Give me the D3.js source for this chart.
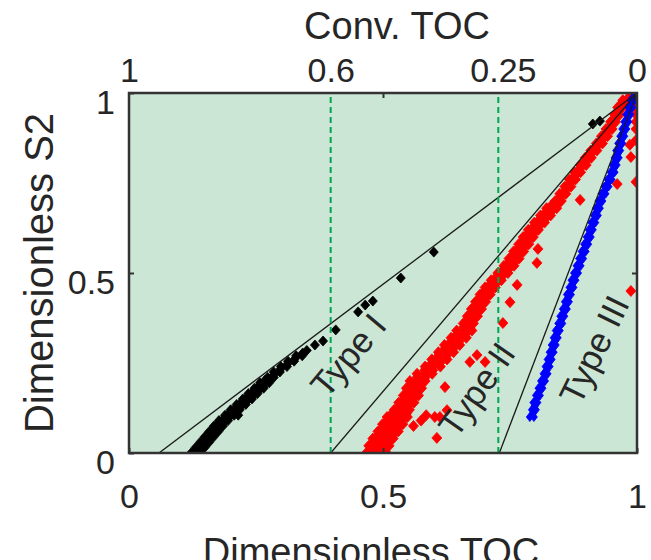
<!DOCTYPE html>
<html><head><meta charset="utf-8">
<script src="https://cdn.jsdelivr.net/npm/d3@7"></script>
<style>
body{margin:0;background:#fff}
text{font-family:"Liberation Sans",Arial,Helvetica,sans-serif;fill:#262626}
</style>
</head><body>
<svg id="chart" width="651" height="560"></svg>
<script>
// ---------- data ----------
const bottomTicks = [0, 0.5, 1];
const bottomTickLabels = ["0", "0.5", "1"];
const leftTicks = [0, 0.5, 1];
const leftTickLabels = ["0", "0.5", "1"];
const topTickPos = [0, 0.397, 0.736, 1];
const topTickLabels = ["1", "0.6", "0.25", "0"];
const dashedX = [0.397, 0.727];
const boundaryStarts = [0.059, 0.397, 0.729];   // lines from (x,0) to apex
const apex = [1, 1];
const typeNames = ["Type I", "Type II", "Type III"];
const typeAnchors = [[0.431, 0.272], [0.684, 0.177], [0.915, 0.287]];
const typeAngles = [-50, -55, -64];

// Type I rows: [S2, TOC values...]
const typeIRows = [
[0, 0.122,0.131,0.140],
[0.0075, 0.131,0.140],
[0.015, 0.131,0.140,0.149],
[0.0225, 0.140,0.149],
[0.03, 0.140,0.149,0.158],
[0.0375, 0.149,0.158],
[0.045, 0.149,0.158,0.167],
[0.0525, 0.158,0.167],
[0.06, 0.158,0.167,0.176],
[0.0675, 0.167,0.176],
[0.075, 0.167,0.176,0.185],
[0.0825, 0.1765,0.1855],
[0.09, 0.177,0.186,0.195],
[0.0975, 0.1875,0.1965],
[0.105, 0.189,0.198,0.207,0.215],
[0.1125, 0.199,0.208],
[0.12, 0.200,0.209,0.218],
[0.1275, 0.2105,0.2195],
[0.135, 0.212,0.221,0.230],
[0.1425, 0.2225,0.2315],
[0.15, 0.224,0.233,0.242],
[0.1575, 0.234,0.243],
[0.165, 0.235,0.244,0.253],
[0.1725, 0.2455,0.2545],
[0.18, 0.247,0.256,0.265],
[0.1875, 0.257,0.266],
[0.195, 0.258,0.267,0.276],
[0.2025, 0.268,0.277],
[0.21, 0.273,0.285],
[0.2175, 0.285],
[0.225, 0.285,0.297],
[0.2325, 0.298],
[0.24, 0.299,0.311],
[0.2475, 0.312],
[0.255, 0.313,0.325],
[0.2625, 0.327],
[0.27, 0.329,0.341],
[0.2775, 0.342],
[0.285, 0.350]
];
const typeIScatter = [
[0.366,0.3],[0.382,0.311],[0.407,0.342],[0.451,0.392],[0.465,0.411],[0.480,0.422],
[0.535,0.486],[0.600,0.558],[0.913,0.914],[0.927,0.922]
];

const typeIIRows = [
[0.00, 0.467,0.480,0.494,0.507],
[0.01, 0.475,0.489,0.503],
[0.02, 0.472,0.485,0.499,0.512],
[0.03, 0.482,0.496,0.510],
[0.04, 0.480,0.493,0.507,0.520],
[0.05, 0.491,0.505,0.519],
[0.06, 0.490,0.503,0.517,0.530],
[0.07, 0.500,0.514,0.528],
[0.08, 0.499,0.512,0.526,0.539],
[0.09, 0.509,0.523,0.537],
[0.10, 0.508,0.521,0.535,0.548],
[0.11, 0.518,0.532,0.546],
[0.12, 0.522,0.537,0.552],
[0.13, 0.533,0.549],
[0.14, 0.531,0.546,0.561],
[0.15, 0.542,0.558],
[0.16, 0.540,0.555,0.570],
[0.17, 0.550,0.566],
[0.18, 0.546,0.561,0.576],
[0.19, 0.556,0.572],
[0.20, 0.553,0.568,0.583],
[0.21, 0.567,0.583],
[0.22, 0.567,0.582,0.597],
[0.23, 0.582,0.598],
[0.24, 0.583,0.598,0.613],
[0.25, 0.596,0.612],
[0.26, 0.596,0.611,0.626],
[0.27, 0.609,0.625],
[0.28, 0.609,0.624,0.639],
[0.29, 0.622,0.638],
[0.30, 0.621,0.636,0.651],
[0.31, 0.634,0.650],
[0.32, 0.634,0.649,0.664],
[0.33, 0.646,0.662],
[0.34, 0.645,0.660,0.675],
[0.35, 0.659,0.669],
[0.36, 0.658,0.668,0.678],
[0.37, 0.667,0.677],
[0.38, 0.666,0.676,0.686],
[0.39, 0.675,0.685],
[0.40, 0.674,0.684,0.694],
[0.41, 0.683,0.693],
[0.42, 0.682,0.692,0.702],
[0.43, 0.691,0.701],
[0.44, 0.691,0.701,0.711],
[0.45, 0.701,0.711],
[0.46, 0.701,0.711,0.721],
[0.47, 0.712,0.722],
[0.48, 0.713,0.723,0.733],
[0.49, 0.724,0.734],
[0.50, 0.726,0.736,0.746],
[0.51, 0.737,0.747],
[0.52, 0.738,0.748,0.758],
[0.53, 0.748,0.758],
[0.54, 0.748,0.758,0.768],
[0.55, 0.757,0.767],
[0.56, 0.757,0.767,0.777],
[0.57, 0.767,0.777],
[0.58, 0.767,0.777,0.787],
[0.59, 0.776,0.786],
[0.60, 0.776,0.786,0.796],
[0.61, 0.786,0.796],
[0.62, 0.786,0.796,0.806],
[0.63, 0.797,0.807],
[0.64, 0.798,0.808,0.818],
[0.65, 0.809,0.819],
[0.66, 0.810,0.820,0.830],
[0.67, 0.821,0.831],
[0.68, 0.822,0.832,0.842],
[0.69, 0.833,0.843],
[0.70, 0.839,0.851],
[0.71, 0.849],
[0.72, 0.848,0.860],
[0.73, 0.859],
[0.74, 0.858,0.870],
[0.75, 0.868],
[0.76, 0.867,0.879],
[0.77, 0.878],
[0.78, 0.877,0.889],
[0.79, 0.888],
[0.80, 0.888,0.900],
[0.81, 0.899],
[0.82, 0.898,0.910],
[0.83, 0.909],
[0.84, 0.909,0.921],
[0.85, 0.920],
[0.86, 0.920,0.932],
[0.87, 0.931],
[0.88, 0.930,0.942],
[0.89, 0.940],
[0.90, 0.939,0.951],
[0.91, 0.949],
[0.92, 0.948,0.958],
[0.93, 0.957],
[0.94, 0.956,0.966],
[0.95, 0.963],
[0.96, 0.962,0.972],
[0.97, 0.970],
[0.98, 0.972,0.980],
[0.99, 0.985]
];
const typeIIScatter = [
[0.602,0.10],[0.612,0.10],[0.626,0.119],[0.606,0.042],[0.622,0.183],
[0.560,0.075],[0.575,0.09],[0.585,0.105],
[0.671,0.253],[0.701,0.253],[0.685,0.272],
[0.736,0.361],[0.750,0.419],[0.764,0.467],
[0.803,0.528],[0.805,0.567],[0.888,0.703],[0.961,0.747],
[0.967,0.861],[0.988,0.822],[0.986,0.856],[0.988,0.45],[0.967,0.967],
[0.998,0.98],[0.998,0.96],[0.998,0.94],[0.998,0.92],[0.998,0.90],
[0.998,0.869],[0.998,0.753]
];

const typeIIIRows = [
[0.10, 0.789,0.797],[0.11, 0.795],
[0.12, 0.793,0.801],[0.13, 0.7985],
[0.14, 0.796,0.804],[0.15, 0.8025],
[0.16, 0.801,0.809],[0.17, 0.8075],
[0.18, 0.806,0.814],[0.19, 0.8125],
[0.20, 0.811,0.819],[0.21, 0.8175],
[0.22, 0.816,0.824],[0.23, 0.822],
[0.24, 0.820,0.828],[0.25, 0.826],
[0.26, 0.824,0.832],[0.27, 0.830],
[0.28, 0.828,0.836],[0.29, 0.834],
[0.30, 0.832,0.840],[0.31, 0.838],
[0.32, 0.836,0.844],[0.33, 0.842],
[0.34, 0.840,0.848],[0.35, 0.8465],
[0.36, 0.845,0.853],[0.37, 0.851],
[0.38, 0.849,0.857],[0.39, 0.8555],
[0.40, 0.854,0.862],[0.41, 0.860],
[0.42, 0.858,0.866],[0.43, 0.864],
[0.44, 0.862,0.870],[0.45, 0.8685],
[0.46, 0.867,0.875],[0.47, 0.873],
[0.48, 0.871,0.879],[0.49, 0.8775],
[0.50, 0.876,0.884],[0.51, 0.8825],
[0.52, 0.881,0.889],[0.53, 0.8875],
[0.54, 0.886,0.894],[0.55, 0.8925],
[0.56, 0.891,0.899],[0.57, 0.8975],
[0.58, 0.896,0.904],[0.59, 0.9025],
[0.60, 0.901,0.909],[0.61, 0.907],
[0.62, 0.905,0.913],[0.63, 0.9115],
[0.64, 0.910,0.918],[0.65, 0.9165],
[0.66, 0.915,0.923],[0.67, 0.921],
[0.68, 0.919,0.927],[0.69, 0.9255],
[0.70, 0.924,0.932],[0.71, 0.931],
[0.72, 0.930,0.938],[0.73, 0.937],
[0.74, 0.936,0.944],[0.75, 0.943],
[0.76, 0.942,0.950],[0.77, 0.949],
[0.78, 0.948,0.956],[0.79, 0.954],
[0.80, 0.952,0.960],[0.81, 0.958],
[0.82, 0.956,0.964],[0.83, 0.9615],
[0.84, 0.959,0.967],[0.85, 0.965],
[0.86, 0.963,0.971],[0.87, 0.969],
[0.88, 0.967,0.975],[0.89, 0.973],
[0.90, 0.971,0.979],[0.91, 0.977],
[0.92, 0.975,0.983],[0.93, 0.981],
[0.94, 0.979,0.987],[0.95, 0.985],
[0.96, 0.983,0.991],[0.97, 0.989],
[0.98, 0.987,0.995],[0.99, 0.993]
];

// table of points built from the rows
const rowsToPoints = rows => rows.flatMap(r => r.slice(1).map(v => [v, r[0]]));
const typeI = rowsToPoints(typeIRows).concat(typeIScatter);
const typeII = rowsToPoints(typeIIRows).concat(typeIIScatter);
const typeIII = rowsToPoints(typeIIIRows);

// ---------- layout ----------
const svg = d3.select("#chart");
const L = 129, R = 637, T = 93, B = 453;
const x = d3.scaleLinear().domain([0, 1]).range([L, R]);
const y = d3.scaleLinear().domain([0, 1]).range([B, T]);

svg.append("rect").attr("x", L).attr("y", T).attr("width", R - L).attr("height", B - T)
  .attr("fill", "#cce6d5");

function diamond(w, h) {
  return `M0,${-h/2}L${w/2},0L0,${h/2}L${-w/2},0Z`;
}
svg.append("clipPath").attr("id", "pc").append("rect")
  .attr("x", L).attr("y", T).attr("width", R - L).attr("height", B - T);
const plot = svg.append("g").attr("clip-path", "url(#pc)");

function drawSeries(data, color, w, h) {
  plot.append("g").selectAll("path").data(data).join("path")
    .attr("d", diamond(w, h))
    .attr("transform", d => `translate(${x(d[0])},${y(d[1])})`)
    .attr("fill", color).attr("stroke", color).attr("stroke-width", 0.8);
}
drawSeries(typeI, "#000000", 9, 10);
drawSeries(typeII, "#ff0000", 10, 11);
drawSeries(typeIII, "#0000ff", 7, 9);

plot.append("g").selectAll("line").data(boundaryStarts).join("line")
  .attr("x1", d => x(d)).attr("y1", y(0))
  .attr("x2", x(apex[0])).attr("y2", y(apex[1]))
  .attr("stroke", "#1a1a1a").attr("stroke-width", 1.3);

plot.append("g").selectAll("line").data(dashedX).join("line")
  .attr("x1", d => x(d)).attr("x2", d => x(d))
  .attr("y1", y(0)).attr("y2", y(1))
  .attr("stroke", "#00a651").attr("stroke-width", 2).attr("stroke-dasharray", "6,4");

svg.append("g").selectAll("text").data(typeNames).join("text")
  .attr("transform", (d, i) => `translate(${x(typeAnchors[i][0])},${y(typeAnchors[i][1])}) rotate(${typeAngles[i]})`)
  .attr("text-anchor", "middle").attr("dominant-baseline", "central")
  .style("font-size", "35px").text(d => d);

// axes
const fs = "34px";
const gb = svg.append("g").attr("transform", `translate(0,${B})`)
  .call(d3.axisBottom(x).tickValues(bottomTicks).tickFormat((d, i) => bottomTickLabels[i])
    .tickSize(-5).tickPadding(31));
const gl = svg.append("g").attr("transform", `translate(${L},0)`)
  .call(d3.axisLeft(y).tickValues(leftTicks).tickFormat((d, i) => leftTickLabels[i])
    .tickSize(-5).tickPadding(14));
gl.selectAll("text").attr("dy", "20px");
const gt = svg.append("g").attr("transform", `translate(0,${T})`)
  .call(d3.axisTop(x).tickValues(topTickPos).tickFormat((d, i) => topTickLabels[i])
    .tickSize(0).tickPadding(11));
const gtTicks = svg.append("g").attr("transform", `translate(0,${T})`)
  .call(d3.axisTop(x).tickValues([0.5]).tickFormat("").tickSize(-5));
const gr = svg.append("g").attr("transform", `translate(${R},0)`)
  .call(d3.axisRight(y).tickValues([0.5]).tickFormat("").tickSize(-5));
[gb, gl, gt, gtTicks, gr].forEach(g => {
  g.select(".domain").remove();
  g.selectAll("line").attr("stroke", "#333").attr("stroke-width", 2);
  g.selectAll("text").style("font-size", fs).attr("fill", "#262626")
    .style("font-family", '"Liberation Sans",Arial,sans-serif');
});

svg.append("rect").attr("x", L).attr("y", T).attr("width", R - L).attr("height", B - T)
  .attr("fill", "none").attr("stroke", "#333").attr("stroke-width", 2.5);

svg.append("text").attr("x", 397).attr("y", 39).attr("text-anchor", "middle")
  .style("font-size", "38px").text("Conv. TOC");
svg.append("text").attr("x", 371).attr("y", 565).attr("text-anchor", "middle")
  .style("font-size", "38px").text("Dimensionless TOC");
svg.append("text").attr("transform", `translate(53,${(T + B) / 2}) rotate(-90)`)
  .attr("text-anchor", "middle").style("font-size", "40px").text("Dimensionless S2");
</script>
</body></html>
